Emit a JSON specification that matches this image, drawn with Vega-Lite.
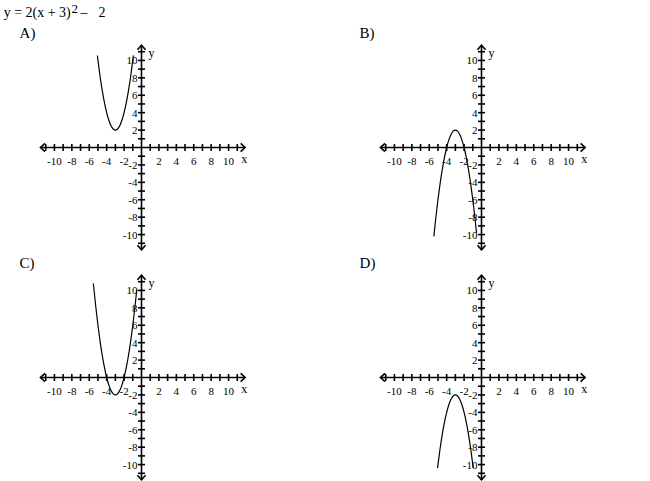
{
  "$schema": "https://vega.github.io/schema/vega-lite/v6.json",
  "padding": {"left": 3, "top": 3, "right": 5, "bottom": 5},
  "background": "white",
  "datasets": {
    "ticks": [{"v": -11}, {"v": -10}, {"v": -9}, {"v": -8}, {"v": -7}, {"v": -6}, {"v": -5}, {"v": -4}, {"v": -3}, {"v": -2}, {"v": -1}, {"v": 1}, {"v": 2}, {"v": 3}, {"v": 4}, {"v": 5}, {"v": 6}, {"v": 7}, {"v": 8}, {"v": 9}, {"v": 10}, {"v": 11}],
    "labels": [{"v": -10, "t": "-10"}, {"v": -8, "t": "-8"}, {"v": -6, "t": "-6"}, {"v": -4, "t": "-4"}, {"v": -2, "t": "-2"}, {"v": 2, "t": "2"}, {"v": 4, "t": "4"}, {"v": 6, "t": "6"}, {"v": 8, "t": "8"}, {"v": 10, "t": "10"}],
    "arrows": [{"x": -11.6, "y": 0, "d": "L"}, {"x": 11.9, "y": 0, "d": "R"}, {"x": 0, "y": 11.75, "d": "U"}, {"x": 0, "y": -11.75, "d": "D"}],
    "curves": [
      {"p": "A", "x": -5.07, "y": 10.57}, {"p": "A", "x": -5, "y": 10}, {"p": "A", "x": -4.75, "y": 8.125}, {"p": "A", "x": -4.5, "y": 6.5}, {"p": "A", "x": -4.25, "y": 5.125}, {"p": "A", "x": -4, "y": 4}, {"p": "A", "x": -3.75, "y": 3.125}, {"p": "A", "x": -3.5, "y": 2.5}, {"p": "A", "x": -3.25, "y": 2.125}, {"p": "A", "x": -3, "y": 2}, {"p": "A", "x": -2.75, "y": 2.125}, {"p": "A", "x": -2.5, "y": 2.5}, {"p": "A", "x": -2.25, "y": 3.125}, {"p": "A", "x": -2, "y": 4}, {"p": "A", "x": -1.75, "y": 5.125}, {"p": "A", "x": -1.5, "y": 6.5}, {"p": "A", "x": -1.25, "y": 8.125}, {"p": "A", "x": -1, "y": 10}, {"p": "A", "x": -0.93, "y": 10.57},
      {"p": "B", "x": -5.47, "y": -10.2}, {"p": "B", "x": -5.25, "y": -8.125}, {"p": "B", "x": -5, "y": -6}, {"p": "B", "x": -4.75, "y": -4.125}, {"p": "B", "x": -4.5, "y": -2.5}, {"p": "B", "x": -4.25, "y": -1.125}, {"p": "B", "x": -4, "y": 0}, {"p": "B", "x": -3.75, "y": 0.875}, {"p": "B", "x": -3.5, "y": 1.5}, {"p": "B", "x": -3.25, "y": 1.875}, {"p": "B", "x": -3, "y": 2}, {"p": "B", "x": -2.75, "y": 1.875}, {"p": "B", "x": -2.5, "y": 1.5}, {"p": "B", "x": -2.25, "y": 0.875}, {"p": "B", "x": -2, "y": 0}, {"p": "B", "x": -1.75, "y": -1.125}, {"p": "B", "x": -1.5, "y": -2.5}, {"p": "B", "x": -1.25, "y": -4.125}, {"p": "B", "x": -1, "y": -6}, {"p": "B", "x": -0.75, "y": -8.125}, {"p": "B", "x": -0.57, "y": -9.8},
      {"p": "C", "x": -5.53, "y": 10.8}, {"p": "C", "x": -5.25, "y": 8.125}, {"p": "C", "x": -5, "y": 6}, {"p": "C", "x": -4.75, "y": 4.125}, {"p": "C", "x": -4.5, "y": 2.5}, {"p": "C", "x": -4.25, "y": 1.125}, {"p": "C", "x": -4, "y": 0}, {"p": "C", "x": -3.75, "y": -0.875}, {"p": "C", "x": -3.5, "y": -1.5}, {"p": "C", "x": -3.25, "y": -1.875}, {"p": "C", "x": -3, "y": -2}, {"p": "C", "x": -2.75, "y": -1.875}, {"p": "C", "x": -2.5, "y": -1.5}, {"p": "C", "x": -2.25, "y": -0.875}, {"p": "C", "x": -2, "y": 0}, {"p": "C", "x": -1.75, "y": 1.125}, {"p": "C", "x": -1.5, "y": 2.5}, {"p": "C", "x": -1.25, "y": 4.125}, {"p": "C", "x": -1, "y": 6}, {"p": "C", "x": -0.75, "y": 8.125}, {"p": "C", "x": -0.54, "y": 10.1},
      {"p": "D", "x": -5.05, "y": -10.4}, {"p": "D", "x": -5, "y": -10}, {"p": "D", "x": -4.75, "y": -8.125}, {"p": "D", "x": -4.5, "y": -6.5}, {"p": "D", "x": -4.25, "y": -5.125}, {"p": "D", "x": -4, "y": -4}, {"p": "D", "x": -3.75, "y": -3.125}, {"p": "D", "x": -3.5, "y": -2.5}, {"p": "D", "x": -3.25, "y": -2.125}, {"p": "D", "x": -3, "y": -2}, {"p": "D", "x": -2.75, "y": -2.125}, {"p": "D", "x": -2.5, "y": -2.5}, {"p": "D", "x": -2.25, "y": -3.125}, {"p": "D", "x": -2, "y": -4}, {"p": "D", "x": -1.75, "y": -5.125}, {"p": "D", "x": -1.5, "y": -6.5}, {"p": "D", "x": -1.25, "y": -8.125}, {"p": "D", "x": -1, "y": -10}, {"p": "D", "x": -0.95, "y": -10.4}
    ]
  },
  "columns": 2,
  "spacing": {"row": 21, "column": 131},
  "bounds": "flush",
  "concat": [
    {
      "width": 209, "height": 209,
      "layer": [
        {"data": {"values": [{}]}, "mark": {"type": "rule", "color": "black", "strokeWidth": 1.6}, "encoding": {"x": {"datum": -11.6, "type": "quantitative", "scale": {"domain": [-12, 12], "nice": false}}, "x2": {"datum": 11.9}, "y": {"datum": 0, "type": "quantitative", "scale": {"domain": [-12, 12], "nice": false}}}},
        {"data": {"values": [{}]}, "mark": {"type": "rule", "color": "black", "strokeWidth": 1.6}, "encoding": {"x": {"datum": 0, "type": "quantitative"}, "y": {"datum": -11.75, "type": "quantitative"}, "y2": {"datum": 11.75}}},
        {"data": {"name": "ticks"}, "mark": {"type": "tick", "orient": "vertical", "size": 7, "thickness": 1.6, "color": "black", "opacity": 1}, "encoding": {"x": {"field": "v", "type": "quantitative"}, "y": {"datum": 0, "type": "quantitative"}}},
        {"data": {"name": "ticks"}, "mark": {"type": "tick", "orient": "horizontal", "size": 7, "thickness": 1.6, "color": "black", "opacity": 1}, "encoding": {"y": {"field": "v", "type": "quantitative"}, "x": {"datum": 0, "type": "quantitative"}}},
        {"data": {"name": "labels"}, "mark": {"type": "text", "font": "Liberation Serif", "fontSize": 11, "color": "black", "baseline": "alphabetic", "align": "center", "dy": 17}, "encoding": {"x": {"field": "v", "type": "quantitative"}, "y": {"datum": 0, "type": "quantitative"}, "text": {"field": "t"}}},
        {"data": {"name": "labels"}, "mark": {"type": "text", "font": "Liberation Serif", "fontSize": 11, "color": "black", "baseline": "middle", "align": "right", "dx": -4, "dy": 1}, "encoding": {"y": {"field": "v", "type": "quantitative"}, "x": {"datum": 0, "type": "quantitative"}, "text": {"field": "t"}}},
        {"data": {"name": "arrows"}, "mark": {"type": "point", "filled": false, "color": "black", "strokeWidth": 1.6, "size": 81, "opacity": 1}, "encoding": {"x": {"field": "x", "type": "quantitative"}, "y": {"field": "y", "type": "quantitative"}, "shape": {"field": "d", "type": "nominal", "scale": {"domain": ["L", "R", "U", "D"], "range": ["M1,-0.9L0,0L1,0.9", "M-1,-0.9L0,0L-1,0.9", "M-0.9,1L0,0L0.9,1", "M-0.9,-1L0,0L0.9,-1"]}, "legend": null}}},
        {"data": {"values": [{}]}, "mark": {"type": "text", "font": "Liberation Serif", "fontSize": 12, "color": "black", "align": "left", "baseline": "alphabetic", "dy": 15}, "encoding": {"x": {"datum": 11.46, "type": "quantitative"}, "y": {"datum": 0, "type": "quantitative"}, "text": {"value": "x"}}},
        {"data": {"values": [{}]}, "mark": {"type": "text", "font": "Liberation Serif", "fontSize": 12, "color": "black", "align": "left", "baseline": "alphabetic", "dx": 7}, "encoding": {"x": {"datum": 0, "type": "quantitative"}, "y": {"datum": 10.4, "type": "quantitative"}, "text": {"value": "y"}}},
        {"data": {"values": [{}]}, "mark": {"type": "text", "font": "Liberation Serif", "fontSize": 15, "color": "black", "align": "left", "baseline": "alphabetic"}, "encoding": {"x": {"datum": -14, "type": "quantitative"}, "y": {"datum": 12.55, "type": "quantitative"}, "text": {"value": "A)"}}},
        {"data": {"values": [{}]}, "mark": {"type": "text", "font": "Liberation Serif", "fontSize": 14, "color": "black", "align": "left", "baseline": "alphabetic"}, "encoding": {"x": {"datum": -15.83, "type": "quantitative"}, "y": {"datum": 14.94, "type": "quantitative"}, "text": {"value": "y = 2(x + 3)"}}},
        {"data": {"values": [{}]}, "mark": {"type": "text", "font": "Liberation Serif", "fontSize": 13, "color": "black", "align": "left", "baseline": "alphabetic"}, "encoding": {"x": {"datum": -8.05, "type": "quantitative"}, "y": {"datum": 15.4, "type": "quantitative"}, "text": {"value": "2"}}},
        {"data": {"values": [{}]}, "mark": {"type": "text", "font": "Liberation Serif", "fontSize": 14, "color": "black", "align": "left", "baseline": "alphabetic"}, "encoding": {"x": {"datum": -7.01, "type": "quantitative"}, "y": {"datum": 14.94, "type": "quantitative"}, "text": {"value": "–"}}},
        {"data": {"values": [{}]}, "mark": {"type": "text", "font": "Liberation Serif", "fontSize": 14, "color": "black", "align": "left", "baseline": "alphabetic"}, "encoding": {"x": {"datum": -4.95, "type": "quantitative"}, "y": {"datum": 14.94, "type": "quantitative"}, "text": {"value": "2"}}},
        {"data": {"name": "curves"}, "transform": [{"filter": "datum.p === 'A'"}], "mark": {"type": "line", "color": "black", "strokeWidth": 1.2, "interpolate": "monotone"}, "encoding": {"x": {"field": "x", "type": "quantitative"}, "y": {"field": "y", "type": "quantitative"}}}
      ]
    },
    {
      "width": 209, "height": 209,
      "layer": [
        {"data": {"values": [{}]}, "mark": {"type": "rule", "color": "black", "strokeWidth": 1.6}, "encoding": {"x": {"datum": -11.6, "type": "quantitative", "scale": {"domain": [-12, 12], "nice": false}}, "x2": {"datum": 11.9}, "y": {"datum": 0, "type": "quantitative", "scale": {"domain": [-12, 12], "nice": false}}}},
        {"data": {"values": [{}]}, "mark": {"type": "rule", "color": "black", "strokeWidth": 1.6}, "encoding": {"x": {"datum": 0, "type": "quantitative"}, "y": {"datum": -11.75, "type": "quantitative"}, "y2": {"datum": 11.75}}},
        {"data": {"name": "ticks"}, "mark": {"type": "tick", "orient": "vertical", "size": 7, "thickness": 1.6, "color": "black", "opacity": 1}, "encoding": {"x": {"field": "v", "type": "quantitative"}, "y": {"datum": 0, "type": "quantitative"}}},
        {"data": {"name": "ticks"}, "mark": {"type": "tick", "orient": "horizontal", "size": 7, "thickness": 1.6, "color": "black", "opacity": 1}, "encoding": {"y": {"field": "v", "type": "quantitative"}, "x": {"datum": 0, "type": "quantitative"}}},
        {"data": {"name": "labels"}, "mark": {"type": "text", "font": "Liberation Serif", "fontSize": 11, "color": "black", "baseline": "alphabetic", "align": "center", "dy": 17}, "encoding": {"x": {"field": "v", "type": "quantitative"}, "y": {"datum": 0, "type": "quantitative"}, "text": {"field": "t"}}},
        {"data": {"name": "labels"}, "mark": {"type": "text", "font": "Liberation Serif", "fontSize": 11, "color": "black", "baseline": "middle", "align": "right", "dx": -4, "dy": 1}, "encoding": {"y": {"field": "v", "type": "quantitative"}, "x": {"datum": 0, "type": "quantitative"}, "text": {"field": "t"}}},
        {"data": {"name": "arrows"}, "mark": {"type": "point", "filled": false, "color": "black", "strokeWidth": 1.6, "size": 81, "opacity": 1}, "encoding": {"x": {"field": "x", "type": "quantitative"}, "y": {"field": "y", "type": "quantitative"}, "shape": {"field": "d", "type": "nominal", "scale": {"domain": ["L", "R", "U", "D"], "range": ["M1,-0.9L0,0L1,0.9", "M-1,-0.9L0,0L-1,0.9", "M-0.9,1L0,0L0.9,1", "M-0.9,-1L0,0L0.9,-1"]}, "legend": null}}},
        {"data": {"values": [{}]}, "mark": {"type": "text", "font": "Liberation Serif", "fontSize": 12, "color": "black", "align": "left", "baseline": "alphabetic", "dy": 15}, "encoding": {"x": {"datum": 11.46, "type": "quantitative"}, "y": {"datum": 0, "type": "quantitative"}, "text": {"value": "x"}}},
        {"data": {"values": [{}]}, "mark": {"type": "text", "font": "Liberation Serif", "fontSize": 12, "color": "black", "align": "left", "baseline": "alphabetic", "dx": 7}, "encoding": {"x": {"datum": 0, "type": "quantitative"}, "y": {"datum": 10.4, "type": "quantitative"}, "text": {"value": "y"}}},
        {"data": {"values": [{}]}, "mark": {"type": "text", "font": "Liberation Serif", "fontSize": 15, "color": "black", "align": "left", "baseline": "alphabetic"}, "encoding": {"x": {"datum": -14, "type": "quantitative"}, "y": {"datum": 12.55, "type": "quantitative"}, "text": {"value": "B)"}}},
        {"data": {"name": "curves"}, "transform": [{"filter": "datum.p === 'B'"}], "mark": {"type": "line", "color": "black", "strokeWidth": 1.2, "interpolate": "monotone"}, "encoding": {"x": {"field": "x", "type": "quantitative"}, "y": {"field": "y", "type": "quantitative"}}}
      ]
    },
    {
      "width": 209, "height": 209,
      "layer": [
        {"data": {"values": [{}]}, "mark": {"type": "rule", "color": "black", "strokeWidth": 1.6}, "encoding": {"x": {"datum": -11.6, "type": "quantitative", "scale": {"domain": [-12, 12], "nice": false}}, "x2": {"datum": 11.9}, "y": {"datum": 0, "type": "quantitative", "scale": {"domain": [-12, 12], "nice": false}}}},
        {"data": {"values": [{}]}, "mark": {"type": "rule", "color": "black", "strokeWidth": 1.6}, "encoding": {"x": {"datum": 0, "type": "quantitative"}, "y": {"datum": -11.75, "type": "quantitative"}, "y2": {"datum": 11.75}}},
        {"data": {"name": "ticks"}, "mark": {"type": "tick", "orient": "vertical", "size": 7, "thickness": 1.6, "color": "black", "opacity": 1}, "encoding": {"x": {"field": "v", "type": "quantitative"}, "y": {"datum": 0, "type": "quantitative"}}},
        {"data": {"name": "ticks"}, "mark": {"type": "tick", "orient": "horizontal", "size": 7, "thickness": 1.6, "color": "black", "opacity": 1}, "encoding": {"y": {"field": "v", "type": "quantitative"}, "x": {"datum": 0, "type": "quantitative"}}},
        {"data": {"name": "labels"}, "mark": {"type": "text", "font": "Liberation Serif", "fontSize": 11, "color": "black", "baseline": "alphabetic", "align": "center", "dy": 17}, "encoding": {"x": {"field": "v", "type": "quantitative"}, "y": {"datum": 0, "type": "quantitative"}, "text": {"field": "t"}}},
        {"data": {"name": "labels"}, "mark": {"type": "text", "font": "Liberation Serif", "fontSize": 11, "color": "black", "baseline": "middle", "align": "right", "dx": -4, "dy": 1}, "encoding": {"y": {"field": "v", "type": "quantitative"}, "x": {"datum": 0, "type": "quantitative"}, "text": {"field": "t"}}},
        {"data": {"name": "arrows"}, "mark": {"type": "point", "filled": false, "color": "black", "strokeWidth": 1.6, "size": 81, "opacity": 1}, "encoding": {"x": {"field": "x", "type": "quantitative"}, "y": {"field": "y", "type": "quantitative"}, "shape": {"field": "d", "type": "nominal", "scale": {"domain": ["L", "R", "U", "D"], "range": ["M1,-0.9L0,0L1,0.9", "M-1,-0.9L0,0L-1,0.9", "M-0.9,1L0,0L0.9,1", "M-0.9,-1L0,0L0.9,-1"]}, "legend": null}}},
        {"data": {"values": [{}]}, "mark": {"type": "text", "font": "Liberation Serif", "fontSize": 12, "color": "black", "align": "left", "baseline": "alphabetic", "dy": 15}, "encoding": {"x": {"datum": 11.46, "type": "quantitative"}, "y": {"datum": 0, "type": "quantitative"}, "text": {"value": "x"}}},
        {"data": {"values": [{}]}, "mark": {"type": "text", "font": "Liberation Serif", "fontSize": 12, "color": "black", "align": "left", "baseline": "alphabetic", "dx": 7}, "encoding": {"x": {"datum": 0, "type": "quantitative"}, "y": {"datum": 10.4, "type": "quantitative"}, "text": {"value": "y"}}},
        {"data": {"values": [{}]}, "mark": {"type": "text", "font": "Liberation Serif", "fontSize": 15, "color": "black", "align": "left", "baseline": "alphabetic"}, "encoding": {"x": {"datum": -14, "type": "quantitative"}, "y": {"datum": 12.55, "type": "quantitative"}, "text": {"value": "C)"}}},
        {"data": {"name": "curves"}, "transform": [{"filter": "datum.p === 'C'"}], "mark": {"type": "line", "color": "black", "strokeWidth": 1.2, "interpolate": "monotone"}, "encoding": {"x": {"field": "x", "type": "quantitative"}, "y": {"field": "y", "type": "quantitative"}}}
      ]
    },
    {
      "width": 209, "height": 209,
      "layer": [
        {"data": {"values": [{}]}, "mark": {"type": "rule", "color": "black", "strokeWidth": 1.6}, "encoding": {"x": {"datum": -11.6, "type": "quantitative", "scale": {"domain": [-12, 12], "nice": false}}, "x2": {"datum": 11.9}, "y": {"datum": 0, "type": "quantitative", "scale": {"domain": [-12, 12], "nice": false}}}},
        {"data": {"values": [{}]}, "mark": {"type": "rule", "color": "black", "strokeWidth": 1.6}, "encoding": {"x": {"datum": 0, "type": "quantitative"}, "y": {"datum": -11.75, "type": "quantitative"}, "y2": {"datum": 11.75}}},
        {"data": {"name": "ticks"}, "mark": {"type": "tick", "orient": "vertical", "size": 7, "thickness": 1.6, "color": "black", "opacity": 1}, "encoding": {"x": {"field": "v", "type": "quantitative"}, "y": {"datum": 0, "type": "quantitative"}}},
        {"data": {"name": "ticks"}, "mark": {"type": "tick", "orient": "horizontal", "size": 7, "thickness": 1.6, "color": "black", "opacity": 1}, "encoding": {"y": {"field": "v", "type": "quantitative"}, "x": {"datum": 0, "type": "quantitative"}}},
        {"data": {"name": "labels"}, "mark": {"type": "text", "font": "Liberation Serif", "fontSize": 11, "color": "black", "baseline": "alphabetic", "align": "center", "dy": 17}, "encoding": {"x": {"field": "v", "type": "quantitative"}, "y": {"datum": 0, "type": "quantitative"}, "text": {"field": "t"}}},
        {"data": {"name": "labels"}, "mark": {"type": "text", "font": "Liberation Serif", "fontSize": 11, "color": "black", "baseline": "middle", "align": "right", "dx": -4, "dy": 1}, "encoding": {"y": {"field": "v", "type": "quantitative"}, "x": {"datum": 0, "type": "quantitative"}, "text": {"field": "t"}}},
        {"data": {"name": "arrows"}, "mark": {"type": "point", "filled": false, "color": "black", "strokeWidth": 1.6, "size": 81, "opacity": 1}, "encoding": {"x": {"field": "x", "type": "quantitative"}, "y": {"field": "y", "type": "quantitative"}, "shape": {"field": "d", "type": "nominal", "scale": {"domain": ["L", "R", "U", "D"], "range": ["M1,-0.9L0,0L1,0.9", "M-1,-0.9L0,0L-1,0.9", "M-0.9,1L0,0L0.9,1", "M-0.9,-1L0,0L0.9,-1"]}, "legend": null}}},
        {"data": {"values": [{}]}, "mark": {"type": "text", "font": "Liberation Serif", "fontSize": 12, "color": "black", "align": "left", "baseline": "alphabetic", "dy": 15}, "encoding": {"x": {"datum": 11.46, "type": "quantitative"}, "y": {"datum": 0, "type": "quantitative"}, "text": {"value": "x"}}},
        {"data": {"values": [{}]}, "mark": {"type": "text", "font": "Liberation Serif", "fontSize": 12, "color": "black", "align": "left", "baseline": "alphabetic", "dx": 7}, "encoding": {"x": {"datum": 0, "type": "quantitative"}, "y": {"datum": 10.4, "type": "quantitative"}, "text": {"value": "y"}}},
        {"data": {"values": [{}]}, "mark": {"type": "text", "font": "Liberation Serif", "fontSize": 15, "color": "black", "align": "left", "baseline": "alphabetic"}, "encoding": {"x": {"datum": -14, "type": "quantitative"}, "y": {"datum": 12.55, "type": "quantitative"}, "text": {"value": "D)"}}},
        {"data": {"name": "curves"}, "transform": [{"filter": "datum.p === 'D'"}], "mark": {"type": "line", "color": "black", "strokeWidth": 1.2, "interpolate": "monotone"}, "encoding": {"x": {"field": "x", "type": "quantitative"}, "y": {"field": "y", "type": "quantitative"}}}
      ]
    }
  ],
  "config": {"view": {"stroke": null}, "axis": {"disable": true}, "legend": {"disable": true}}
}
